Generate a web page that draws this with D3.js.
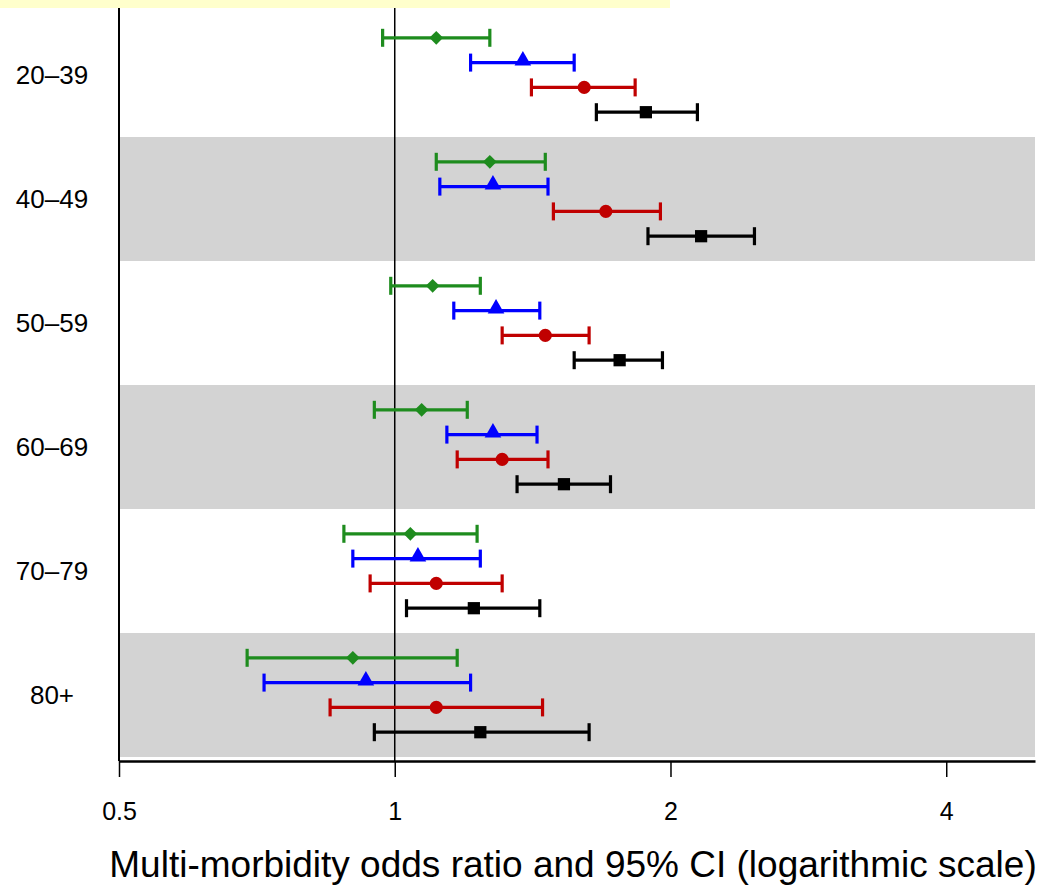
<!DOCTYPE html>
<html>
<head>
<meta charset="utf-8">
<script src="https://cdn.jsdelivr.net/npm/d3@7"></script>
<style>
  body { margin: 0; background: #fff; }
  svg { display: block; }
  .tick-label { font-family: "Liberation Sans", Arial, sans-serif; font-size: 25px; }
  .row-label { font-family: "Liberation Sans", Arial, sans-serif; font-size: 26px; }
  .x-title { font-family: "Liberation Sans", Arial, sans-serif; font-size: 37px; }
</style>
</head>
<body>
<div id="chart"></div>
<script>
var ageGroups = ["20\u201339", "40\u201349", "50\u201359", "60\u201369", "70\u201379", "80+"];
var seriesNames = ["green", "blue", "red", "black"];
var xTicks = [0.5, 1, 2, 4];

// odds ratio [lower, estimate, upper] per age group, one array per series
var greenOR = [[0.97, 1.11, 1.27], [1.11, 1.27, 1.46], [0.99, 1.10, 1.24], [0.95, 1.07, 1.20], [0.88, 1.04, 1.23], [0.69, 0.90, 1.17]];
var blueOR  = [[1.21, 1.38, 1.57], [1.12, 1.28, 1.47], [1.16, 1.29, 1.44], [1.14, 1.28, 1.43], [0.90, 1.06, 1.24], [0.72, 0.93, 1.21]];
var redOR   = [[1.41, 1.61, 1.83], [1.49, 1.70, 1.95], [1.31, 1.46, 1.63], [1.17, 1.31, 1.47], [0.94, 1.11, 1.31], [0.85, 1.11, 1.45]];
var blackOR = [[1.66, 1.88, 2.14], [1.89, 2.16, 2.47], [1.57, 1.76, 1.96], [1.36, 1.53, 1.72], [1.03, 1.22, 1.44], [0.95, 1.24, 1.63]];

var seriesData = [greenOR, blueOR, redOR, blackOR];
var colors = {green: "#1e8c1e", blue: "#0000ff", red: "#c00000", black: "#000000"};
var markers = {green: d3.symbolDiamond2, blue: d3.symbolTriangle, red: d3.symbolCircle, black: d3.symbolSquare};
var markerSizes = {green: 120, blue: 120, red: 135, black: 150};

var width = 1046, height = 886;
var margins = { top: 13, right: 11, bottom: 129, left: 119 };
var plotW = width - margins.left - margins.right,
    plotH = height - margins.top - margins.bottom;

var svg = d3.select("#chart").append("svg")
    .attr("width", width)
    .attr("height", height);

// pale strip along the top edge
svg.append("rect")
    .attr("x", 0).attr("y", 0)
    .attr("width", 670).attr("height", 8)
    .attr("fill", "#ffffcc");

var g = svg.append("g")
    .attr("transform", "translate(" + margins.left + "," + margins.top + ")");

var x = d3.scaleLog().domain([0.5, 5]).range([0, plotW]);
var y = d3.scaleBand().domain(ageGroups).range([0, plotH]);
var ySub = d3.scalePoint().domain(seriesNames).range([0, y.bandwidth()]).padding(1);

// alternate shaded rows
g.selectAll(".band")
    .data(ageGroups.filter(function(d, i) { return i % 2 === 1; }))
    .enter().append("rect")
    .attr("x", 0)
    .attr("y", function(d) { return y(d); })
    .attr("width", plotW)
    .attr("height", y.bandwidth())
    .attr("fill", "#d3d3d3");

// reference line at OR = 1
g.append("line")
    .attr("x1", x(1)).attr("x2", x(1))
    .attr("y1", -5).attr("y2", plotH + 4)
    .attr("stroke", "#000").attr("stroke-width", 1.5);

// left line
g.append("line")
    .attr("x1", 0).attr("x2", 0)
    .attr("y1", -5).attr("y2", plotH + 4)
    .attr("stroke", "#000").attr("stroke-width", 2);

// x axis
var xAxisG = g.append("g")
    .attr("transform", "translate(0," + (plotH + 4) + ")")
    .call(d3.axisBottom(x).tickValues(xTicks).tickSize(16).tickSizeOuter(0)
        .tickFormat(function(d) { return String(d); }));
xAxisG.select(".domain").attr("stroke-width", 2.5);
xAxisG.selectAll(".tick line").attr("stroke-width", 1.5);
xAxisG.selectAll(".tick text")
    .attr("class", "tick-label")
    .attr("y", 59)
    .attr("dy", 0)
    .attr("fill", "#000");

// row labels
g.selectAll(".row-label")
    .data(ageGroups)
    .enter().append("text")
    .attr("class", "row-label")
    .attr("x", -67)
    .attr("y", function(d) { return y(d) + y.bandwidth() / 2; })
    .attr("dy", "0.36em")
    .attr("text-anchor", "middle")
    .text(function(d) { return d; });

// error bars and markers
var capHalf = 9;
seriesNames.forEach(function(name, si) {
    var rows = seriesData[si].map(function(v, i) {
        return {group: ageGroups[i], lo: v[0], est: v[1], hi: v[2]};
    });
    var sg = g.append("g").attr("stroke", colors[name]).attr("stroke-width", 3.2);
    function cy(d) { return y(d.group) + ySub(name); }

    sg.selectAll(".ci").data(rows).enter().append("line")
        .attr("x1", function(d) { return x(d.lo); })
        .attr("x2", function(d) { return x(d.hi); })
        .attr("y1", cy).attr("y2", cy);

    ["lo", "hi"].forEach(function(k) {
        sg.selectAll(".cap-" + k).data(rows).enter().append("line")
            .attr("x1", function(d) { return x(d[k]); })
            .attr("x2", function(d) { return x(d[k]); })
            .attr("y1", function(d) { return cy(d) - capHalf; })
            .attr("y2", function(d) { return cy(d) + capHalf; });
    });

    g.selectAll(".pt-" + name).data(rows).enter().append("path")
        .attr("d", d3.symbol().type(markers[name]).size(markerSizes[name]))
        .attr("transform", function(d) {
            return "translate(" + x(d.est) + "," + (cy(d) - (name === "blue" ? 2 : 0)) + ")";
        })
        .attr("fill", colors[name]);
});

// axis title
svg.append("text")
    .attr("class", "x-title")
    .attr("x", 573)
    .attr("y", 877)
    .attr("text-anchor", "middle")
    .text("Multi-morbidity odds ratio and 95% CI (logarithmic scale)");
</script>
</body>
</html>
